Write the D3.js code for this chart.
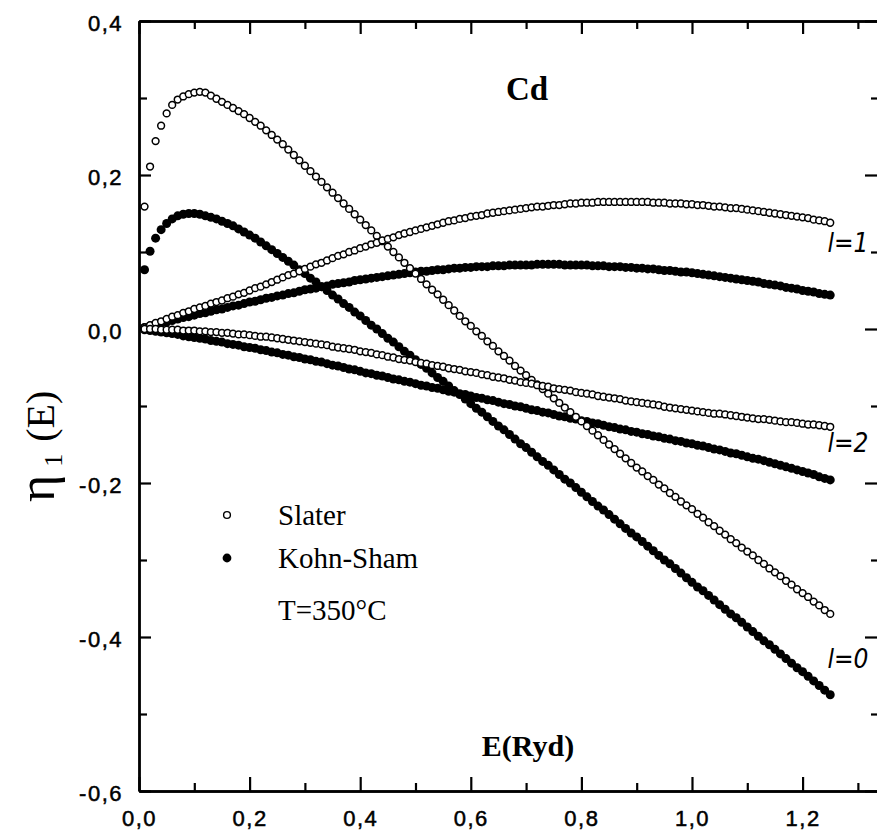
<!DOCTYPE html>
<html><head><meta charset="utf-8">
<script src="https://cdn.jsdelivr.net/npm/d3@7"></script>
<style>body{margin:0;background:#fff}svg{display:block}</style>
</head><body><svg id="c" width="877" height="834"></svg>
<script>
const energy=[0.01,0.02,0.03,0.04,0.05,0.06,0.07,0.08,0.09,0.10,0.11,0.12,0.13,0.14,0.15,0.16,0.17,0.18,0.19,0.20,0.21,0.22,0.23,0.24,0.25,0.26,0.27,0.28,0.29,0.30,0.31,0.32,0.33,0.34,0.35,0.36,0.37,0.38,0.39,0.40,0.41,0.42,0.43,0.44,0.45,0.46,0.47,0.48,0.49,0.50,0.51,0.52,0.53,0.54,0.55,0.56,0.57,0.58,0.59,0.60,0.61,0.62,0.63,0.64,0.65,0.66,0.67,0.68,0.69,0.70,0.71,0.72,0.73,0.74,0.75,0.76,0.77,0.78,0.79,0.80,0.81,0.82,0.83,0.84,0.85,0.86,0.87,0.88,0.89,0.90,0.91,0.92,0.93,0.94,0.95,0.96,0.97,0.98,0.99,1.00,1.01,1.02,1.03,1.04,1.05,1.06,1.07,1.08,1.09,1.10,1.11,1.12,1.13,1.14,1.15,1.16,1.17,1.18,1.19,1.20,1.21,1.22,1.23,1.24,1.25];

const slaterL0=[.159,.211,.244,.264,.280,.291,.298,.302,.305,.307,.308,.307,.303,.299,.295,.291,.287,.283,.279,.274,.269,.264,.258,.252,.246,.240,.233,.226,.219,.212,.205,.198,.191,.184,.177,.170,.163,.156,.149,.142,.135,.128,.121,.114,.107,.100,.093,.086,.079,.072,.065,.058,.051,.045,.038,.031,.024,.017,.010,.004,-.003,-.009,-.016,-.022,-.029,-.035,-.041,-.048,-.054,-.060,-.066,-.072,-.078,-.084,-.090,-.096,-.102,-.108,-.114,-.120,-.126,-.132,-.138,-.144,-.150,-.156,-.162,-.168,-.174,-.180,-.185,-.191,-.196,-.202,-.207,-.213,-.218,-.224,-.229,-.234,-.240,-.245,-.251,-.256,-.262,-.267,-.273,-.278,-.284,-.289,-.294,-.300,-.305,-.311,-.316,-.321,-.327,-.332,-.338,-.343,-.348,-.354,-.359,-.365,-.370];

const kohnShamL0=[.077,.101,.118,.129,.137,.143,.147,.149,.150,.150,.149,.147,.145,.143,.140,.137,.134,.130,.126,.122,.118,.113,.108,.103,.098,.093,.088,.083,.077,.072,.066,.061,.055,.050,.044,.039,.033,.028,.022,.017,.011,.005,.000,-.006,-.012,-.017,-.023,-.029,-.034,-.040,-.046,-.051,-.057,-.063,-.068,-.074,-.080,-.085,-.091,-.097,-.103,-.108,-.114,-.120,-.126,-.131,-.137,-.143,-.149,-.154,-.160,-.166,-.172,-.177,-.183,-.189,-.195,-.200,-.206,-.212,-.218,-.224,-.230,-.235,-.241,-.247,-.253,-.259,-.265,-.270,-.276,-.282,-.288,-.294,-.300,-.305,-.311,-.317,-.323,-.329,-.335,-.340,-.346,-.352,-.358,-.364,-.370,-.375,-.381,-.387,-.393,-.399,-.405,-.410,-.416,-.422,-.428,-.434,-.440,-.445,-.451,-.457,-.463,-.469,-.475];

const slaterL1=[.002,.005,.008,.010,.013,.016,.018,.021,.023,.026,.028,.030,.033,.035,.037,.040,.042,.045,.047,.050,.053,.055,.058,.061,.064,.067,.070,.072,.075,.078,.081,.084,.086,.089,.092,.095,.097,.100,.102,.105,.107,.110,.112,.115,.117,.119,.122,.124,.126,.128,.130,.132,.134,.136,.138,.140,.141,.143,.144,.146,.147,.148,.150,.151,.152,.153,.154,.155,.156,.157,.158,.159,.159,.160,.161,.161,.162,.163,.163,.164,.164,.164,.165,.165,.165,.165,.165,.165,.165,.165,.165,.165,.164,.164,.164,.163,.163,.163,.162,.162,.161,.161,.160,.159,.159,.158,.157,.157,.156,.155,.154,.153,.152,.151,.150,.149,.148,.147,.146,.145,.144,.142,.141,.140,.138];

const kohnShamL1=[.002,.004,.006,.007,.009,.011,.013,.015,.016,.018,.020,.021,.023,.025,.026,.028,.030,.031,.033,.035,.036,.038,.040,.041,.043,.044,.046,.047,.049,.051,.052,.053,.055,.056,.058,.059,.060,.061,.063,.064,.065,.066,.067,.068,.069,.070,.071,.072,.073,.074,.075,.075,.076,.077,.077,.078,.079,.079,.080,.080,.081,.081,.081,.082,.082,.082,.083,.083,.083,.083,.083,.084,.084,.084,.084,.084,.083,.083,.083,.083,.083,.082,.082,.082,.081,.081,.081,.080,.080,.079,.079,.078,.078,.077,.076,.076,.075,.074,.074,.073,.072,.071,.070,.069,.068,.067,.066,.065,.064,.063,.062,.061,.059,.058,.057,.056,.054,.053,.052,.050,.049,.048,.046,.045,.044];

const slaterL2=[.000,.000,.000,-.001,-.001,-.001,-.001,-.002,-.002,-.002,-.003,-.003,-.004,-.004,-.005,-.005,-.006,-.007,-.007,-.008,-.009,-.010,-.010,-.011,-.012,-.013,-.014,-.015,-.016,-.017,-.018,-.019,-.020,-.021,-.023,-.024,-.025,-.026,-.027,-.029,-.030,-.031,-.033,-.034,-.036,-.037,-.039,-.040,-.041,-.043,-.044,-.045,-.047,-.048,-.049,-.051,-.052,-.053,-.055,-.056,-.057,-.059,-.060,-.062,-.063,-.064,-.066,-.067,-.069,-.070,-.071,-.073,-.074,-.075,-.077,-.078,-.079,-.080,-.082,-.083,-.084,-.085,-.087,-.088,-.089,-.090,-.091,-.093,-.094,-.095,-.096,-.097,-.098,-.099,-.101,-.102,-.103,-.104,-.105,-.106,-.107,-.108,-.109,-.110,-.110,-.111,-.112,-.113,-.114,-.115,-.116,-.117,-.117,-.118,-.119,-.120,-.121,-.121,-.122,-.123,-.124,-.124,-.125,-.126,-.127];

const kohnShamL2=[-.001,-.002,-.003,-.004,-.005,-.006,-.007,-.009,-.010,-.011,-.012,-.013,-.015,-.016,-.017,-.019,-.020,-.021,-.023,-.024,-.025,-.027,-.028,-.030,-.031,-.033,-.034,-.036,-.037,-.039,-.040,-.042,-.043,-.045,-.047,-.048,-.050,-.052,-.053,-.055,-.057,-.058,-.060,-.061,-.063,-.065,-.066,-.068,-.069,-.071,-.073,-.074,-.076,-.077,-.079,-.081,-.082,-.084,-.085,-.087,-.089,-.090,-.092,-.093,-.095,-.097,-.098,-.100,-.101,-.103,-.105,-.106,-.108,-.109,-.111,-.113,-.114,-.116,-.117,-.119,-.120,-.122,-.123,-.125,-.127,-.128,-.130,-.131,-.133,-.134,-.136,-.137,-.139,-.140,-.142,-.143,-.145,-.146,-.148,-.149,-.151,-.152,-.154,-.156,-.157,-.159,-.161,-.162,-.164,-.166,-.168,-.169,-.171,-.173,-.175,-.177,-.179,-.181,-.183,-.185,-.187,-.189,-.192,-.194,-.196];

const xTickValues=[0,0.2,0.4,0.6,0.8,1.0,1.2];
const xMinorValues=[0.1,0.3,0.5,0.7,0.9,1.1,1.3];
const yTickValues=[-0.6,-0.4,-0.2,0,0.2,0.4];
const yMinorValues=[-0.5,-0.3,-0.1,0.1,0.3];
const curveLabels=[{t:"l=1",v:0.10},{t:"l=2",v:-0.16},{t:"l=0",v:-0.44}];

const svg=d3.select('#c');
const x=d3.scaleLinear().domain([0,1.34]).range([139,880]);
const y=d3.scaleLinear().domain([-0.6,0.4]).range([791,21]);
const fmt=d=>d.toFixed(1).replace('.',',');
const tickFont='"Liberation Sans", Arial, sans-serif';
const serif='"Liberation Serif","Times New Roman",serif';

function style(g){
  g.select('.domain').attr('stroke','#000').attr('stroke-width',2.4);
  g.selectAll('.tick line').attr('stroke','#000').attr('stroke-width',2.2);
  g.selectAll('.tick text').attr('font-family',tickFont).attr('font-size',22).attr('letter-spacing',1.5)
    .attr('fill','#000').attr('stroke','#000').attr('stroke-width',0.5);
}
// bottom
svg.append('g').attr('transform',`translate(0,${y(-0.6)})`)
  .call(d3.axisBottom(x).tickValues(xTickValues).tickSizeInner(-14).tickSizeOuter(0).tickPadding(19).tickFormat(fmt)).call(style);
svg.append('g').attr('transform',`translate(0,${y(-0.6)})`)
  .call(d3.axisBottom(x).tickValues(xMinorValues).tickSizeInner(-8).tickSizeOuter(0).tickFormat('')).call(style);
// top
svg.append('g').attr('transform',`translate(0,${y(0.4)})`)
  .call(d3.axisTop(x).tickValues(xTickValues).tickSizeInner(-13).tickSizeOuter(0).tickFormat('')).call(style);
svg.append('g').attr('transform',`translate(0,${y(0.4)})`)
  .call(d3.axisTop(x).tickValues(xMinorValues).tickSizeInner(-8).tickSizeOuter(0).tickFormat('')).call(style);
// left
const gl=svg.append('g').attr('transform',`translate(${x(0)},0)`)
  .call(d3.axisLeft(y).tickValues(yTickValues).tickSizeInner(-12).tickSizeOuter(0).tickPadding(16).tickFormat(fmt)).call(style);
gl.selectAll('.tick text').attr('dy','0.45em');
svg.append('g').attr('transform',`translate(${x(0)},0)`)
  .call(d3.axisLeft(y).tickValues(yMinorValues).tickSizeInner(-8).tickSizeOuter(0).tickFormat('')).call(style);
// right
svg.append('g').attr('transform',`translate(${x(1.34)},0)`)
  .call(d3.axisRight(y).tickValues(yTickValues).tickSizeInner(-15).tickSizeOuter(0).tickFormat('')).call(style);
svg.append('g').attr('transform',`translate(${x(1.34)},0)`)
  .call(d3.axisRight(y).tickValues(yMinorValues).tickSizeInner(-9).tickSizeOuter(0).tickFormat('')).call(style);

// data
const filled=[kohnShamL0,kohnShamL1,kohnShamL2];
const open=[slaterL0,slaterL1,slaterL2];
const plot=svg.append('g');
filled.forEach(s=>{
  plot.append('g').selectAll('circle').data(s).join('circle')
    .attr('cx',(d,i)=>x(energy[i])).attr('cy',d=>y(d)).attr('r',4.5).attr('fill','#000');
});
open.forEach(s=>{
  plot.append('g').selectAll('circle').data(s).join('circle')
    .attr('cx',(d,i)=>x(energy[i])).attr('cy',d=>y(d)).attr('r',3.4)
    .attr('fill','#fff').attr('stroke','#000').attr('stroke-width',1.5);
});

// title
svg.append('text').attr('x',527).attr('y',100).attr('text-anchor','middle')
  .attr('font-family',serif).attr('font-weight','bold').attr('font-size',33).text('Cd');
// x label
svg.append('text').attr('x',528).attr('y',756).attr('text-anchor','middle')
  .attr('font-family',serif).attr('font-weight','bold').attr('font-size',30).text('E(Ryd)');
// y label
const yl=svg.append('text').attr('transform','translate(54,502) rotate(-90)')
  .attr('font-family',serif).attr('fill','#000');
yl.append('tspan').attr('font-size',52).text('η');
yl.append('tspan').attr('font-size',26).attr('dy',8).attr('dx',8).text('1');
yl.append('tspan').attr('font-size',40).attr('dy',-8).attr('dx',12).text('(E)');

// legend
const lg=svg.append('g');
lg.append('circle').attr('cx',227).attr('cy',515).attr('r',3.4).attr('fill','#fff').attr('stroke','#000').attr('stroke-width',1.4);
lg.append('circle').attr('cx',227).attr('cy',558).attr('r',4.4).attr('fill','#000');
[['Slater',525],['Kohn-Sham',568],['T=350°C',620]].forEach(([t,yy])=>{
  lg.append('text').attr('x',278).attr('y',yy).attr('font-family',serif).attr('font-size',29).text(t);
});

// curve labels
curveLabels.forEach((c,i)=>{
  svg.append('text').attr('x',x(1.245)).attr('y',y(c.v))
    .attr('font-family','"Liberation Sans Narrow","DejaVu Sans Condensed",sans-serif')
    .attr('font-style','italic').attr('font-size',26).text(c.t);
});
</script></body></html>
